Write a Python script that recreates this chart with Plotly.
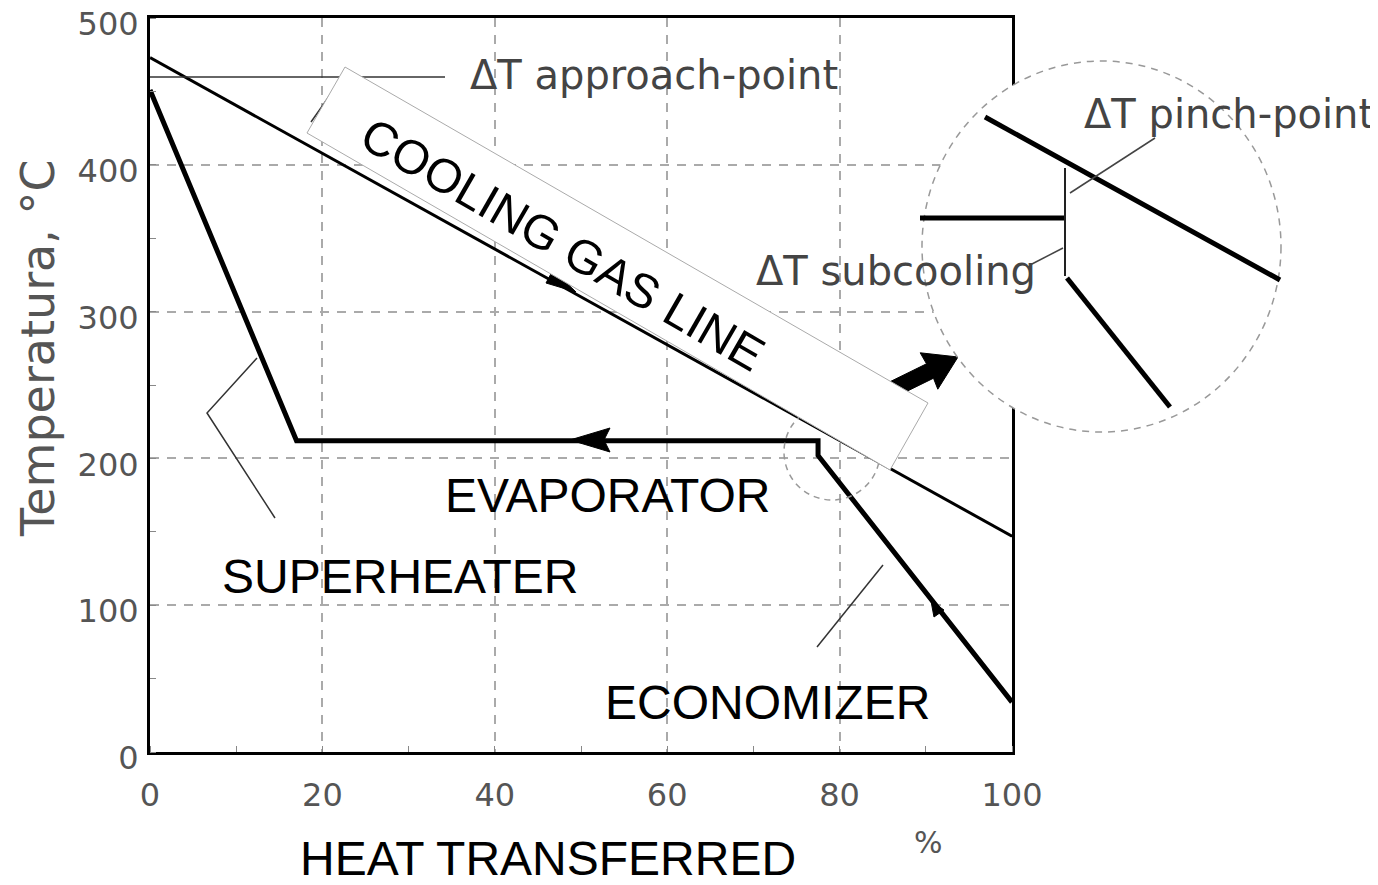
import plotly.graph_objects as go

# ---- data ----
gas_heat_pct = [0, 100]
gas_temp_c = [473, 147]
steam_heat_pct = [0, 17, 77.5, 77.5, 100]
steam_temp_c = [451, 212, 212, 202, 34]
x_tick_vals = [0, 20, 40, 60, 80, 100]
y_tick_vals = [0, 100, 200, 300, 400, 500]

# ---- layout geometry (pixels of the page; the page body adds an 8px margin) ----
OFF = 8
W, H = 1378 - OFF, 885 - OFF
PX0, PY0 = 150, 752          # page pixel of x=0, y=0
PW, PH = 862, 734
L, T = PX0 - OFF, PY0 - PH - OFF
R, B = W - L - PW, H - T - PH


def px(x):
    return (x - PX0) / PW


def py(y):
    return (PY0 - y) / PH


def pth(pts, close=True):
    s = "M" + " L".join(f"{px(x):.5f},{py(y):.5f}" for x, y in pts)
    return s + (" Z" if close else "")


def seg(x0, y0, x1, y1, color="#222", width=1.5, dash="solid", layer="above"):
    return dict(type="line", xref="paper", yref="paper", x0=px(x0), y0=py(y0),
                x1=px(x1), y1=py(y1), line=dict(color=color, width=width, dash=dash),
                layer=layer)


def rect(x0, y0, x1, y1, layer="between"):
    return dict(type="rect", xref="paper", yref="paper", x0=px(x0), y0=py(y0),
                x1=px(x1), y1=py(y1), fillcolor="white", line=dict(width=0), layer=layer)


fig = go.Figure()
fig.add_trace(go.Scatter(x=gas_heat_pct, y=gas_temp_c, mode="lines",
                         line=dict(color="black", width=3), showlegend=False, hoverinfo="skip"))
fig.add_trace(go.Scatter(x=steam_heat_pct, y=steam_temp_c, mode="lines",
                         line=dict(color="black", width=5), showlegend=False, hoverinfo="skip"))

shapes = []
# white label boxes hiding grid lines
shapes.append(rect(200, 523, 600, 612))
shapes.append(rect(423, 452, 795, 532))
shapes.append(rect(590, 648, 963, 746))

# leaders
shapes.append(dict(type="path", xref="paper", yref="paper",
                   path=pth([(257, 358), (207, 413), (275, 518)], close=False),
                   line=dict(color="#333", width=1.5), layer="above"))
shapes.append(seg(883, 565, 817, 647, color="#333"))
shapes.append(seg(150, 77, 445, 77, color="#333"))
shapes.append(seg(311, 122, 342, 78, color="#333"))

# small arrowheads on lines
shapes.append(dict(type="path", xref="paper", yref="paper",
                   path=pth([(570, 440), (610, 428), (604, 440), (610, 452)]),
                   fillcolor="black", line=dict(color="black", width=1), layer="above"))
shapes.append(dict(type="path", xref="paper", yref="paper",
                   path=pth([(576, 292), (546, 283), (553, 270)]),
                   fillcolor="black", line=dict(color="black", width=1), layer="above"))
shapes.append(dict(type="path", xref="paper", yref="paper",
                   path=pth([(931, 601), (934, 617), (944, 610)]),
                   fillcolor="black", line=dict(color="black", width=1), layer="above"))

# small dashed circle at the pinch
shapes.append(dict(type="circle", xref="paper", yref="paper",
                   x0=px(784), x1=px(880), y0=py(404), y1=py(500),
                   line=dict(color="#999", width=1.5, dash="6px,5px"), layer="above"))

# big arrow to the magnifier
shapes.append(dict(type="path", xref="paper", yref="paper",
                   path=pth([(878.5, 405.2), (933.5, 378.2), (937.8, 389.2), (958, 357),
                             (920.2, 352.8), (926.5, 363.8), (871.5, 390.8)]),
                   fillcolor="black", line=dict(color="black", width=1), layer="above"))

# rotated white box of the gas line label
shapes.append(dict(type="path", xref="paper", yref="paper",
                   path=pth([(345, 67), (928, 403), (890, 470), (307, 133)]),
                   fillcolor="white", line=dict(color="#aaa", width=1), layer="above"))

# magnifier
shapes.append(dict(type="circle", xref="paper", yref="paper",
                   x0=px(922), x1=px(1281), y0=py(432), y1=py(61),
                   fillcolor="white", line=dict(color="#999", width=1.5, dash="7px,6px"),
                   layer="above"))
shapes.append(seg(985, 117, 1280, 280, color="black", width=5))
shapes.append(seg(920, 218, 1065, 218, color="black", width=5))
shapes.append(seg(1065, 168, 1065, 276, color="#222", width=2))
shapes.append(seg(1067, 278, 1170, 407, color="black", width=5))
shapes.append(seg(1070, 193, 1155, 138, color="#444", width=1.5))
shapes.append(seg(1063, 248, 1030, 265, color="#444", width=1.5))

ann = []


def txt(text, x, y, size, color="black", family="Liberation Sans, Arial, sans-serif",
        xanchor="left", angle=0):
    ann.append(dict(text=text, xref="paper", yref="paper", x=px(x), y=py(y),
                    xanchor=xanchor, yanchor="middle", showarrow=False, textangle=angle,
                    font=dict(size=size, color=color, family=family)))


gray_font = "DejaVu Sans, Verdana, sans-serif"
txt("COOLING GAS LINE", 563, 244, 48, angle=30, xanchor="center")
txt("EVAPORATOR", 443, 495, 48)
txt("SUPERHEATER", 220, 576, 48)
txt("ECONOMIZER", 603, 702, 48)
txt("ΔT approach-point", 468, 75, 40, color="#444", family=gray_font)
txt("ΔT pinch-point", 1082, 114, 40, color="#444", family=gray_font)
txt("ΔT subcooling", 754, 271, 40, color="#444", family=gray_font)
txt("%", 928, 842, 30, color="#555", family=gray_font, xanchor="center")
txt("Temperatura, °C", 38, 348, 46, color="#555", family=gray_font, xanchor="center", angle=-90)
txt("HEAT TRANSFERRED", 548, 859, 48, xanchor="center")

grid = dict(showgrid=True, gridcolor="#aaa", gridwidth=1.5, griddash="9px,8px")
fig.update_layout(
    width=W, height=H, margin=dict(l=L, r=R, t=T, b=B, pad=0, autoexpand=False),
    paper_bgcolor="white", plot_bgcolor="white",
    shapes=shapes, annotations=ann, showlegend=False,
    xaxis=dict(range=[0, 100], tickvals=x_tick_vals, **grid, zeroline=False,
               showline=True, linecolor="black", linewidth=3, mirror=True, automargin=False,
               ticks="", ticklabelstandoff=13, ticklabeloverflow="allow",
               tickfont=dict(size=32, color="#555", family=gray_font),
               minor=dict(ticks="inside", ticklen=6, dtick=10, tickcolor="#888", showgrid=False)),
    yaxis=dict(range=[0, 500], tickvals=y_tick_vals, **grid, zeroline=False,
               showline=True, linecolor="black", linewidth=3, mirror=True, automargin=False,
               ticks="", ticklabelstandoff=2, ticklabelshift=6, ticklabeloverflow="allow",
               tickfont=dict(size=32, color="#555", family=gray_font),
               minor=dict(ticks="inside", ticklen=6, dtick=50, tickcolor="#888", showgrid=False)),
)

fig.write_html("out.html")
